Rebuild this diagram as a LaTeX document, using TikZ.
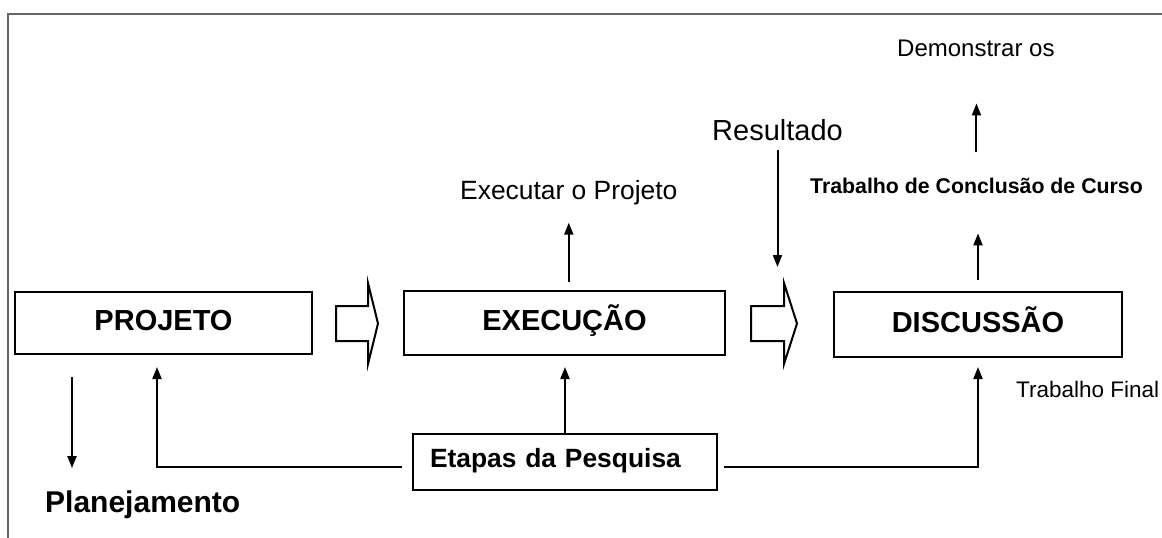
\documentclass[tikz,border=0pt]{standalone}
\usepackage{fontspec}
\setmainfont{Liberation Sans}
\usetikzlibrary{arrows.meta,calc}
\newcommand{\setfs}[1]{\fontsize{#1}{#1}\selectfont}
\def\blockarrow(#1:#2:#3){\draw[block] (#1,306) -- (#2,306) -- (#2,283) -- (#3,323.5) -- (#2,364) -- (#2,341) -- (#1,341) -- cycle;}

\begin{document}
\begin{tikzpicture}[x=1pt, y=-1pt,
		box/.style={draw, line width=2pt, inner sep=0pt, text height=21pt, text depth=6pt, font=\bfseries\setfs{29}},
		lbl/.style={inner sep=0pt, anchor=base west},
		conn/.style={line width=2pt, -{Triangle[length=12pt,width=9pt]}},
		block/.style={line width=2pt, fill=white, line join=miter}]
		%%%%% START %%%%%
		\useasboundingbox (0,0) rectangle (1162,538);
		
		\draw[line width=2pt, color=black!60] (8,538) -- (8,14) -- (1162,14);
		
		\node[box, minimum width=297, minimum height=62] (proj) at (163.5,323) {PROJETO};
		\node[box, minimum width=321, minimum height=64] (exec) at (564.5,323) {EXECUÇÃO};
		\node[box, minimum width=288, minimum height=65] (disc) at (978,324.5) {DISCUSSÃO};
		\node[box, minimum height=56, text height=19pt, text depth=9pt, text width=270pt, inner xsep=17pt, align=left, font=\bfseries\setfs{26.4}] (etapas) at (565,462) {Etapas da Pesquisa};
		
		\blockarrow(336:368:378)
		\blockarrow(751:784:797)
		
		\node[lbl, font=\bfseries\setfs{30}] (plan) at (45,512) {Planejamento};
		\node[lbl, font=\setfs{26.4}] (executar) at (460,199) {Executar o Projeto};
		\node[lbl, font=\setfs{29}] (result) at (712,140) {Resultado};
		\node[lbl, font=\setfs{24}] (demo) at (897,56) {Demonstrar os};
		\node[lbl, font=\bfseries\setfs{21.3}] (tcc) at (810,193) {Trabalho de Conclusão de Curso};
		\node[lbl, font=\setfs{22.5}] (final) at (1016,397) {Trabalho Final};
		
		\coordinate (planA) at (72,354);
		\coordinate (projin) at (157,354);
		\coordinate (discin) at (978,357);
		\coordinate (resend) at (776,267);
		
		\draw[conn, shorten <=23pt, shorten >=22pt] (planA) -- (planA |- plan.north);
		\draw[conn, shorten <=10pt, shorten >=13pt] ([yshift=-5pt]etapas.west) -| (projin);
		\draw[conn, shorten <=6pt, shorten >=10pt] ([yshift=-5pt]etapas.east) -| (discin);
		\draw[conn, shorten >=11pt] (etapas.north) -- (etapas.north |- exec.south);
		
		\draw[conn, shorten <=8pt, shorten >=18pt] (exec.north -| executar.south) -- (executar.south);
		\draw[conn, shorten <=10pt] (result.south) -- (result.south |- resend);
		\draw[conn, shorten <=11pt, shorten >=40pt] (disc.north) -- (disc.north |- tcc.south);
		\draw[conn, shorten <=25pt, shorten >=47pt] (tcc.north) -- (tcc.north |- demo.south);
		%%%%% END %%%%%
\end{tikzpicture}
\end{document}
